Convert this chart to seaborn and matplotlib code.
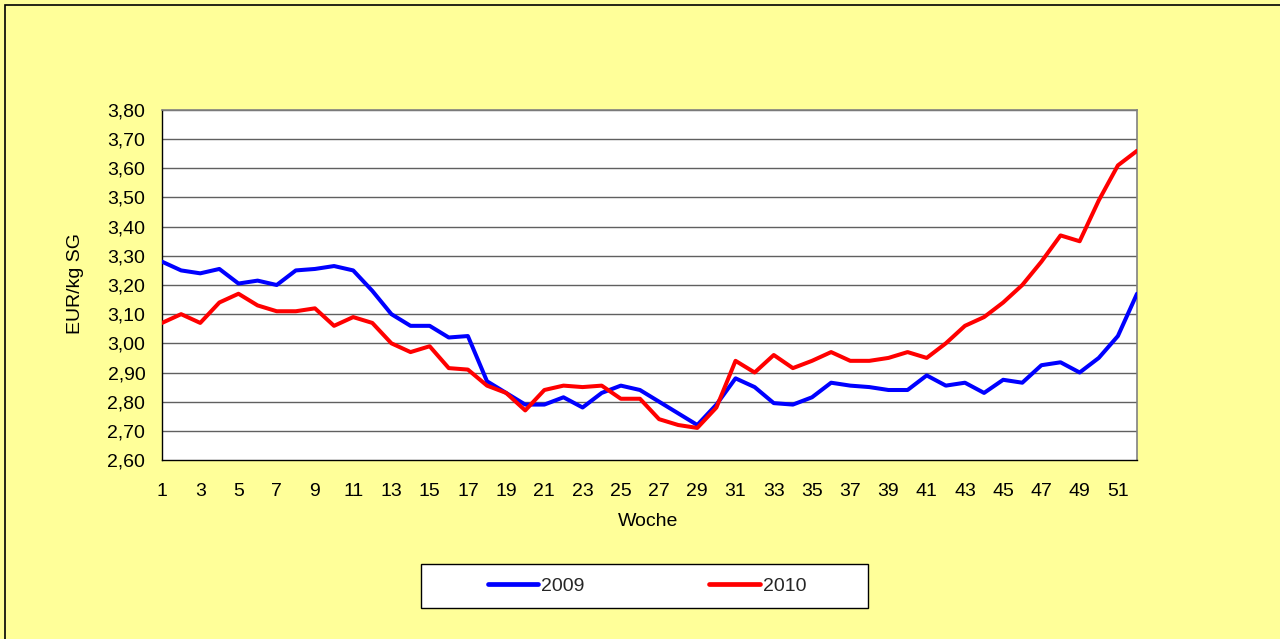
import numpy as np
import pandas as pd
import matplotlib
matplotlib.use("Agg")
import matplotlib.pyplot as plt
from matplotlib.patches import Rectangle
from matplotlib.lines import Line2D
import seaborn as sns

# Weekly pig prices (EUR/kg SG)
weeks = list(range(1, 53))
price_2009 = [3.28, 3.25, 3.24, 3.255, 3.205, 3.215, 3.20, 3.25, 3.255, 3.265,
              3.25, 3.18, 3.10, 3.06, 3.06, 3.02, 3.025, 2.87, 2.83, 2.79,
              2.79, 2.815, 2.78, 2.83, 2.855, 2.84, 2.80, 2.76, 2.72, 2.79,
              2.88, 2.85, 2.795, 2.79, 2.815, 2.865, 2.855, 2.85, 2.84, 2.84,
              2.89, 2.855, 2.865, 2.83, 2.875, 2.865, 2.925, 2.935, 2.90, 2.95,
              3.025, 3.17]
price_2010 = [3.07, 3.10, 3.07, 3.14, 3.17, 3.13, 3.11, 3.11, 3.12, 3.06,
              3.09, 3.07, 3.00, 2.97, 2.99, 2.915, 2.91, 2.855, 2.83, 2.77,
              2.84, 2.855, 2.85, 2.855, 2.81, 2.81, 2.74, 2.72, 2.71, 2.78,
              2.94, 2.90, 2.96, 2.915, 2.94, 2.97, 2.94, 2.94, 2.95, 2.97,
              2.95, 3.00, 3.06, 3.09, 3.14, 3.20, 3.28, 3.37, 3.35, 3.49,
              3.61, 3.66]
series_names = ["2009", "2010"]
series_colors = {"2009": "#0000FF", "2010": "#FF0000"}
y_ticks = [2.60, 2.70, 2.80, 2.90, 3.00, 3.10, 3.20, 3.30, 3.40, 3.50, 3.60, 3.70, 3.80]

df = pd.DataFrame({
    "Woche": weeks * 2,
    "Preis": price_2009 + price_2010,
    "Jahr": [series_names[0]] * len(weeks) + [series_names[1]] * len(weeks),
})

sns.set_theme(style="white")
plt.rcParams["font.family"] = ["Liberation Sans", "DejaVu Sans"]

W, H = 1280, 639
FS = 14
fig = plt.figure(figsize=(W / 100, H / 100), dpi=100)
fig.patch.set_facecolor("#FFFF99")

# outer chart frame
fig.patches.append(Rectangle((5 / W, -0.1), 2, 1.1 - 5 / H,
                             transform=fig.transFigure, fill=False,
                             edgecolor="black", linewidth=1.2))

ax = fig.add_axes([162 / W, 1 - 460 / H, (1137 - 162) / W, (460 - 110) / H])
ax.set_facecolor("white")

sns.lineplot(data=df, x="Woche", y="Preis", hue="Jahr", palette=series_colors,
             linewidth=2.9, ax=ax, legend=False, zorder=3)

ax.set_xlim(1, 52)
ax.set_ylim(2.60, 3.80)
ax.set_yticks(y_ticks)
ax.set_yticklabels([f"{v:.2f}".replace(".", ",") for v in y_ticks])
ax.set_xticks(weeks)
ax.set_xticklabels([str(w) if w % 2 == 1 else "" for w in weeks])

for v in y_ticks[1:]:
    ax.axhline(v, color="#606060", linewidth=1.0, zorder=1)

for side in ["top", "right"]:
    ax.spines[side].set_color("#808080")
    ax.spines[side].set_linewidth(1.2)
for side in ["left", "bottom"]:
    ax.spines[side].set_color("black")
    ax.spines[side].set_linewidth(1.0)

ax.tick_params(axis="both", direction="out", width=1, color="black",
               labelsize=FS, labelcolor="black")
ax.tick_params(axis="y", length=5, pad=7)
ax.tick_params(axis="x", length=3.5, pad=13)
ax.grid(False)

ax.set_xlabel("Woche", fontsize=FS, color="black", va="center")
ax.set_ylabel("EUR/kg SG", fontsize=FS, color="black", va="center")
ax.xaxis.set_label_coords((648 - 162) / (1137 - 162), (460 - 521) / (460 - 110))
ax.yaxis.set_label_coords((76 - 162) / (1137 - 162), (460 - 283) / (460 - 110))

# legend box
fig.patches.append(Rectangle((421 / W, 1 - 608 / H), (868 - 421) / W, (608 - 564) / H,
                             transform=fig.transFigure, facecolor="white",
                             edgecolor="black", linewidth=1.0, zorder=0))
handles = [Line2D([0], [0], color=series_colors[n], linewidth=3.4,
                  solid_capstyle="round") for n in series_names]
fig.legend(handles, series_names, loc="center", bbox_to_anchor=(647 / W, 1 - 586 / H),
           ncol=2, frameon=False, fontsize=FS, handlelength=2.6,
           handletextpad=0.15, columnspacing=6.4)

fig.savefig("out.png", dpi=100, facecolor=fig.get_facecolor())
